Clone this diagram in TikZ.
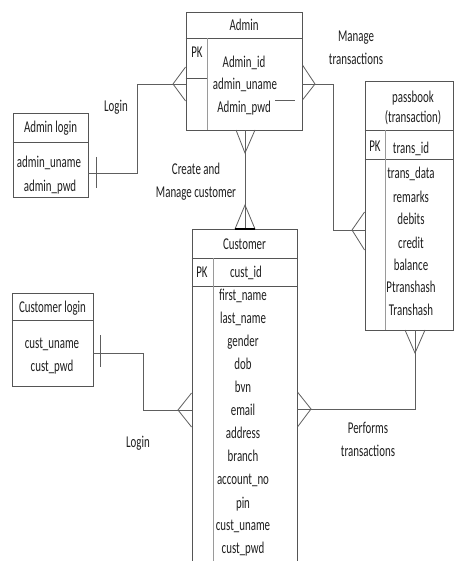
\documentclass[tikz,border=0pt]{standalone}
\usepackage{fontspec}
\setmainfont{Carlito}[FakeStretch=0.66]
\definecolor{boxgray}{HTML}{555555}
\definecolor{colgray}{HTML}{9A9A9A}
\definecolor{linkgray}{HTML}{5E5E5E}
\definecolor{inkgray}{HTML}{1E1E1E}
\begin{document}
\begin{tikzpicture}[x=1pt,y=-1pt,
  entity/.style={draw=boxgray,line width=0.9pt,inner sep=0pt,rectangle},
  sepline/.style={draw=boxgray,line width=0.9pt},
  colline/.style={draw=colgray,line width=0.8pt},
  link/.style={draw=linkgray,line width=0.8pt},
  txt/.style={inner sep=0pt,anchor=base,text=inkgray,font=\fontsize{16.5}{23}\selectfont},
  lbl/.style={inner sep=0pt,align=center,text=inkgray,font=\fontsize{16.5}{23}\selectfont}]
\useasboundingbox (0,0) rectangle (455,561);

% ---------- Admin ----------
\node[entity,minimum width=116pt,minimum height=118pt] (admin) at (244,71) {};
\draw[sepline] (admin.west |- 0,38) -- (admin.east |- 0,38);
\draw[sepline] (admin.west |- 0,78) -- (207,78);
\draw[colline] (207,38) -- (207,130);
\node[txt] (admintitle) at (244,30.5) {Admin};
\node[txt] (adminpk) at (197,58) {PK};
\node[txt] (adminid) at (244,67.5) {Admin\_id};
\node[txt] (adminuname) at (245,89.5) {admin\_uname};
\node[txt] (adminpwd) at (244,112.5) {Admin\_pwd};
\draw[link] (275,100) -- (295,100);

% ---------- Admin login ----------
\node[entity,minimum width=75pt,minimum height=84pt] (alogin) at (50.5,155) {};
\draw[sepline] (alogin.west |- 0,142) -- (alogin.east |- 0,142);
\node[txt] (alogintitle) at (50.5,132.5) {Admin login};
\node[txt] (aloginuname) at (49,167.5) {admin\_uname};
\node[txt] (aloginpwd) at (50,191.5) {admin\_pwd};

% ---------- passbook ----------
\node[entity,minimum width=88pt,minimum height=249pt] (pass) at (409,205.5) {};
\draw[sepline] (pass.west |- 0,130) -- (pass.east |- 0,130);
\draw[sepline] (pass.west |- 0,159) -- (pass.east |- 0,159);
\draw[colline] (385,130) -- (385,330);
\node[txt] (passtitle) at (413,102.5) {passbook};
\node[txt] (passtitleb) at (413,122.5) {(transaction)};
\node[txt] (passpk) at (375,151.5) {PK};
\foreach \n/\t [count=\i] in {153.5/trans\_id,178.5/trans\_data,202.5/remarks,224.5/debits,248.5/credit,270.5/balance,292.5/Ptranshash,315.5/Transhash}
  \node[txt,name=passattr\i] at (411,\n) {\t};

% ---------- Customer ----------
\node[entity,minimum width=105pt,minimum height=340pt] (cust) at (244.5,399) {};
\draw[sepline] (cust.west |- 0,258) -- (cust.east |- 0,258);
\draw[sepline] (cust.west |- 0,286) -- (cust.east |- 0,286);
\draw[colline] (213,258) -- (213,570);
\node[txt] (custtitle) at (244.5,249.5) {Customer};
\node[txt] (custpk) at (202,277.5) {PK};
\node[txt] (custid) at (246,277.5) {cust\_id};
\foreach \n/\t [count=\i] in {300.5/first\_name,323.5/last\_name,346.5/gender,369.5/dob,392.5/bvn,415.5/email,438.5/address,461.5/branch,484.5/account\_no,508/pin,530.5/cust\_uname,553.5/cust\_pwd}
  \node[txt,name=custattr\i] at (243,\n) {\t};

% ---------- Customer login ----------
\node[entity,minimum width=81pt,minimum height=93pt] (clogin) at (52.5,339.5) {};
\draw[sepline] (clogin.west |- 0,320) -- (clogin.east |- 0,320);
\node[txt] (clogintitle) at (52.5,312.5) {Customer login};
\node[txt] (cloginuname) at (52,348.5) {cust\_uname};
\node[txt] (cloginpwd) at (52,371.5) {cust\_pwd};

% ---------- Admin login -- Admin ----------
\draw[link] (alogin.east |- 0,173) -- (137,173) -- (137,84) -- (admin.west |- 0,84);
\draw[link] (96,157) -- (96,188);
\draw[link] (admin.west |- 0,67) -- (173,84) -- (admin.west |- 0,101);

% ---------- Admin -- passbook ----------
\draw[link] (admin.east |- 0,84) -- (333,84) -- (333,230) -- (pass.west |- 0,230);
\draw[link] (admin.east |- 0,65) -- (315,84) -- (admin.east |- 0,100);
\draw[link] (pass.west |- 0,212) -- (352,230) -- (pass.west |- 0,250);

% ---------- Admin -- Customer ----------
\draw[link] (admin.south -| 245,0) -- (cust.north -| 245,0);
\draw[link] (236,130) -- (245,153) -- (255,130);
\draw[link] (235,229) -- (245,205) -- (255,229);
\draw[line width=1.3pt,draw=black] (235,229) -- (255,229);

% ---------- Customer login -- Customer ----------
\draw[link] (clogin.east |- 0,353) -- (143,353) -- (143,410) -- (cust.west |- 0,410);
\draw[link] (100,335) -- (100,367);
\draw[link] (cust.west |- 0,393) -- (178,410) -- (cust.west |- 0,427);

% ---------- Customer -- passbook ----------
\draw[link] (cust.east |- 0,409) -- (415,409) -- (pass.south -| 415,0);
\draw[link] (cust.east |- 0,392) -- (311,409) -- (cust.east |- 0,427);
\draw[link] (405,330) -- (415,353) -- (425,330);

% ---------- relationship labels ----------
\node[lbl] (loginadmin) at (116,107) {Login};
\node[lbl] (managetrans) at (356,48) {Manage\\transactions};
\node[lbl] (managecust) at (196,181.5) {Create and\\Manage customer};
\node[lbl] (logincust) at (138,443) {Login};
\node[lbl] (performs) at (368,439) {Performs\\transactions};
\end{tikzpicture}
\end{document}
